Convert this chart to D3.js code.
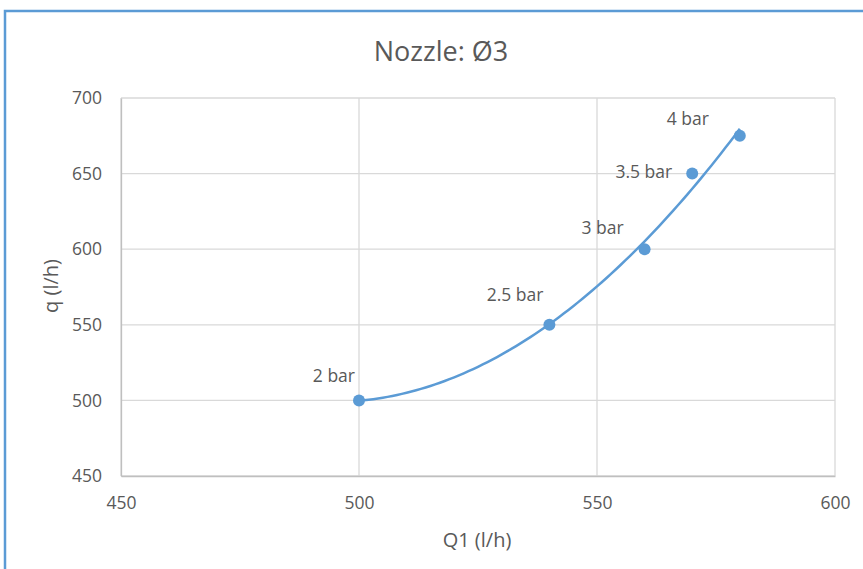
<!DOCTYPE html>
<html>
<head>
<meta charset="utf-8">
<script src="https://cdn.jsdelivr.net/npm/d3@7"></script>
<style>
  body { margin: 0; background: #fff; }
  text { font-family: "Open Sans", "Noto Sans", sans-serif; fill: #595959; }
</style>
</head>
<body>
<div id="chart"></div>
<script>
// measured points: Q1 (l/h) vs q (l/h), one per pressure
const q1 = [500, 540, 560, 570, 580];
const q = [500, 550, 600, 650, 675];
const labels = ['2 bar', '2.5 bar', '3 bar', '3.5 bar', '4 bar'];
const xTicks = [450, 500, 550, 600];
const yTicks = [450, 500, 550, 600, 650, 700];

const W = 863, H = 569;
const margins = { left: 121, right: 28, top: 98, bottom: 93 };
const width = W - margins.left - margins.right,
    height = H - margins.top - margins.bottom;

// least squares 2nd order trendline, like the spreadsheet one
function polyfit2(xs, ys) {
    let s = [0, 0, 0, 0, 0], t = [0, 0, 0];
    xs.forEach((x, i) => {
        let p = 1;
        for (let k = 0; k < 5; k++) { s[k] += p; if (k < 3) t[k] += p * ys[i]; p *= x; }
    });
    let m = [[s[0], s[1], s[2], t[0]], [s[1], s[2], s[3], t[1]], [s[2], s[3], s[4], t[2]]];
    for (let i = 0; i < 3; i++) {
        for (let j = i + 1; j < 3; j++) {
            let f = m[j][i] / m[i][i];
            for (let k = i; k < 4; k++) m[j][k] -= f * m[i][k];
        }
    }
    let c = [0, 0, 0];
    for (let i = 2; i >= 0; i--) {
        let v = m[i][3];
        for (let k = i + 1; k < 3; k++) v -= m[i][k] * c[k];
        c[i] = v / m[i][i];
    }
    return (x) => c[0] + c[1] * x + c[2] * x * x;
}

// centre x on 540 to keep the fit well conditioned
const fit = polyfit2(q1.map((d) => d - 540), q);
const trend = d3.range(0, 81).map((i) => ({ x: q1[0] + i, y: fit(q1[0] + i - 540) }));

const x = d3.scaleLinear().domain([450, 600]).range([0, width]);
const y = d3.scaleLinear().domain([450, 700]).range([height, 0]);

let svg = d3.select('#chart').append('svg')
    .attr('width', W)
    .attr('height', H);

// blue frame of the chart object (only top and left edges are in view)
svg.append('path')
    .attr('d', 'M5,569V11H863')
    .attr('fill', 'none')
    .attr('stroke', '#5b9bd5')
    .attr('stroke-width', 2.5);

svg.append('text')
    .attr('x', 441)
    .attr('y', 61)
    .attr('text-anchor', 'middle')
    .attr('font-size', 27)
    .text('Nozzle: Ø3');

let g = svg.append('g')
    .attr('transform', 'translate(' + margins.left + ',' + margins.top + ')');

// gridlines
g.append('g').selectAll('line')
    .data(xTicks)
    .enter().append('line')
    .attr('x1', (d) => x(d)).attr('x2', (d) => x(d))
    .attr('y1', 0).attr('y2', height)
    .attr('stroke', '#d9d9d9')
    .attr('stroke-width', 1.3);

g.append('g').selectAll('line')
    .data(yTicks)
    .enter().append('line')
    .attr('x1', 0).attr('x2', width)
    .attr('y1', (d) => y(d)).attr('y2', (d) => y(d))
    .attr('stroke', '#d9d9d9')
    .attr('stroke-width', 1.3);

let bottom = g.append('g')
    .attr('transform', 'translate(0,' + height + ')')
    .call(d3.axisBottom(x).tickValues(xTicks).tickSize(0).tickPadding(21));
bottom.select('.domain').attr('stroke', '#bfbfbf').attr('stroke-width', 1.3);
bottom.attr('font-size', null).attr('font-family', null);
bottom.selectAll('text').style('font-size', '17.5px').attr('fill', '#595959');

let left = g.append('g')
    .call(d3.axisLeft(y).tickValues(yTicks).tickSize(0).tickPadding(19));
left.select('.domain').attr('stroke', '#bfbfbf').attr('stroke-width', 1.3);
left.attr('font-size', null).attr('font-family', null);
left.selectAll('text').style('font-size', '17.5px').attr('fill', '#595959');

svg.append('text')
    .attr('x', 477)
    .attr('y', 547)
    .attr('text-anchor', 'middle')
    .style('font-size', '20px')
    .text('Q1 (l/h)');

svg.append('text')
    .attr('transform', 'translate(58,' + 286 + ') rotate(-90)')
    .attr('text-anchor', 'middle')
    .style('font-size', '20px')
    .text('q (l/h)');

let line = d3.line()
    .x((d) => x(d.x))
    .y((d) => y(d.y));

g.append('path').datum(trend)
    .attr('fill', 'none')
    .attr('stroke', '#5b9bd5')
    .attr('stroke-width', 2.5)
    .attr('d', line);

g.selectAll('.pt')
    .data(q1)
    .enter().append('circle')
    .attr('cx', (d) => x(d))
    .attr('cy', (d, i) => y(q[i]))
    .attr('r', 6)
    .attr('fill', '#5b9bd5');

// data labels sit up and to the left of each point
const dx = [-4, -6, -21, -20, -31], dy = [-18, -24, -15, 4, -11];
g.selectAll('.lbl')
    .data(labels)
    .enter().append('text')
    .attr('x', (d, i) => x(q1[i]) + dx[i])
    .attr('y', (d, i) => y(q[i]) + dy[i])
    .attr('text-anchor', 'end')
    .style('font-size', '17.5px')
    .text((d) => d);
</script>
</body>
</html>
